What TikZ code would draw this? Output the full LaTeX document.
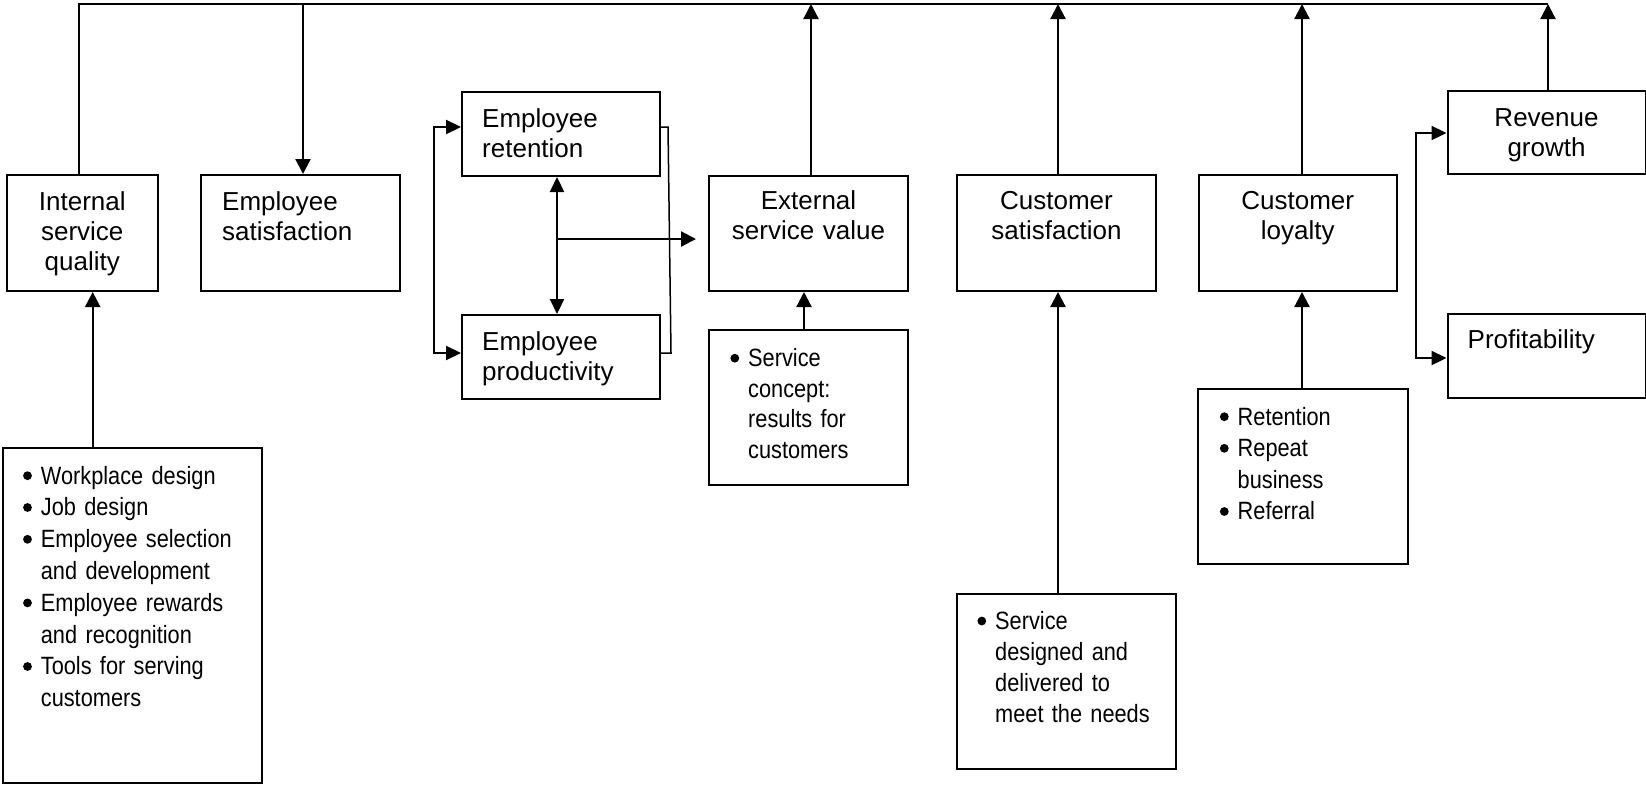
\documentclass[tikz,border=0pt]{standalone}
\usepackage{fontspec}
\setmainfont{Liberation Sans}
\newfontfamily\condensed[FakeStretch=0.87]{Liberation Sans}
\usetikzlibrary{arrows.meta,calc}

% round bullet hung in the left margin of a list line
\newcommand\bul{\leavevmode\llap{\tikz[baseline=0pt]\fill (0pt,8.3pt) circle[radius=4.4pt];\hspace{9pt}}}

\tikzset{
  box/.style={draw, line width=2pt, inner sep=0pt, anchor=north west},
  headc/.style={inner sep=0pt, anchor=base, align=center, text width=#1,
                font=\fontsize{26}{30}\selectfont},
  headl/.style={inner sep=0pt, anchor=base west, align=left, text width=#1,
                font=\fontsize{26}{30}\selectfont},
  list/.style={inner sep=0pt, anchor=base west, align=left, text width=#1},
  lead/.style={font=\condensed\fontsize{25}{#1}\selectfont},
  arr/.style={line width=2.2pt, -{Triangle[width=15pt,length=15pt]}},
  arrboth/.style={line width=2.2pt, {Triangle[width=14pt,length=15pt]}-{Triangle[width=14pt,length=15pt]}},
  thinline/.style={line width=1.5pt},
}

\begin{document}
\begin{tikzpicture}[x=1pt, y=-1pt]
\useasboundingbox (0,0) rectangle (1646,785);

% boxes
\node[box, minimum width=151.5, minimum height=116] (iq) at (5.5,174) {};
\node[box, minimum width=199, minimum height=116] (es) at (200,174) {};
\node[box, minimum width=198, minimum height=84] (er) at (461,91) {};
\node[box, minimum width=198, minimum height=84] (ep) at (461,314) {};
\node[box, minimum width=199, minimum height=115] (esv) at (708,175) {};
\node[box, minimum width=199, minimum height=155] (sc) at (708,329) {};
\node[box, minimum width=199, minimum height=116] (cs) at (956,174) {};
\node[box, minimum width=198.5, minimum height=116] (cl) at (1197.5,174) {};
\node[box, minimum width=198, minimum height=83] (rg) at (1446.5,90) {};
\node[box, minimum width=198, minimum height=84] (pr) at (1446.5,313) {};
\node[box, minimum width=259, minimum height=335] (wp) at (1.7,446.7) {};
\node[box, minimum width=219.3, minimum height=175] (sd) at (955.7,592.7) {};
\node[box, minimum width=209.7, minimum height=174.7] (ret) at (1197,388) {};

% headings
\node[headc=141] (iq-t) at ($(iq.north)+(0,36)$) {Internal\\service\\quality};
\node[headl=170] (es-t) at ($(es.north west)+(22,36.5)$) {Employee\\satisfaction};
\node[headl=170] (er-t) at ($(er.north west)+(21,36)$) {Employee\\retention};
\node[headl=170] (ep-t) at ($(ep.north west)+(21,36)$) {Employee\\productivity};
\node[headc=190] (esv-t) at ($(esv.north)+(0,34.5)$) {External\\service value};
\node[headc=190] (cs-t) at ($(cs.north)+(0,35.5)$) {Customer\\satisfaction};
\node[headc=190] (cl-t) at ($(cl.north)+(0,35.5)$) {Customer\\loyalty};
\node[headc=190] (rg-t) at ($(rg.north)+(0,36)$) {Revenue\\growth};
\node[headl=170] (pr-t) at ($(pr.north west)+(21,35.5)$) {Profitability};

% bullet lists
\node[list=215, lead=31.8] (wp-t) at ($(wp.north west)+(39,37.3)$)
  {\bul Workplace design\\ \bul Job design\\ \bul Employee selection\\ and development\\
   \bul Employee rewards\\ and recognition\\ \bul Tools for serving\\ customers};
\node[list=150, lead=30.6] (sc-t) at ($(sc.north west)+(40,37.5)$)
  {\bul Service\\ concept:\\ results for\\ customers};
\node[list=160, lead=31.6] (ret-t) at ($(ret.north west)+(40.5,37)$)
  {\bul Retention\\ \bul Repeat\\ business\\ \bul Referral};
\node[list=170, lead=30.9] (sd-t) at ($(sd.north west)+(39.3,36.6)$)
  {\bul Service\\ designed and\\ delivered to\\ meet the needs};

% feedback line along the top
\coordinate (tl) at (79,4);
\coordinate (tr) at (1548,4);
\draw[thinline] (iq.north -| tl) -- (tl) -- (tr);

\coordinate (xes) at (303,4);
\coordinate (xesv) at (811,4);
\coordinate (xcs) at (1058,4);
\coordinate (xcl) at (1302,4);
\draw[arr] (xes) -- (xes |- es.north);
\draw[arr] (esv.north -| xesv) -- (xesv);
\draw[arr] (cs.north -| xcs) -- (xcs);
\draw[arr] (cl.north -| xcl) -- (xcl);
\draw[arr] (rg.north -| tr) -- (tr);

% drivers from the bullet boxes
\coordinate (xwp) at (92.7,0);
\coordinate (xsc) at (804,0);
\draw[arr] (wp.north -| xwp) -- (iq.south -| xwp);
\draw[arr] (sc.north -| xsc) -- (esv.south -| xsc);
\draw[arr] (sd.north -| xcs) -- (cs.south -| xcs);
\draw[arr] (ret.north -| xcl) -- (cl.south -| xcl);

% employee retention / productivity
\coordinate (lb1) at (434,127);
\coordinate (lb2) at (434,353);
\draw[arrboth] (er.west |- lb1) -- (lb1) -- (lb2) -- (ep.west |- lb2);
\coordinate (rb1) at (668,127);
\coordinate (rb2) at (671,353);
\draw[thinline] (er.east |- rb1) -- (rb1) -- (rb2) -- (ep.east |- rb2);
\coordinate (xmid) at (557,239);
\coordinate (hend) at (696,239);
\draw[arrboth] (er.south -| xmid) -- (ep.north -| xmid);
\draw[arr] (xmid) -- (hend);

% revenue growth / profitability
\coordinate (rb3) at (1416,133);
\coordinate (rb4) at (1416,358);
\draw[arrboth] (rg.west |- rb3) -- (rb3) -- (rb4) -- (pr.west |- rb4);
\end{tikzpicture}
\end{document}
